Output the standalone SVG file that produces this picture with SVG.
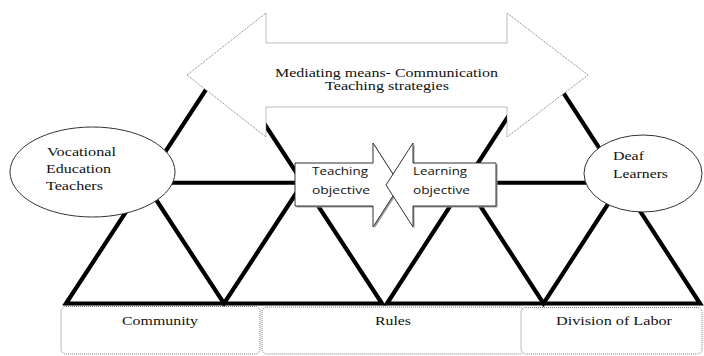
<svg xmlns="http://www.w3.org/2000/svg" width="704" height="356" viewBox="0 0 704 356">
  <style>
    .tri { fill: none; stroke: #000; stroke-width: 4.2; stroke-linejoin: miter; stroke-miterlimit: 4; }
    .dotted { fill: #fff; stroke: #7a7a7a; stroke-width: 1; stroke-dasharray: 1 1; }
    .oval { fill: #fff; stroke: #333; stroke-width: 1; }
    .callout { fill: #fff; stroke: #333; stroke-width: 1; }
    .shadow { fill: #9a9a9a; stroke: none; }
    .serif { font-family: "Liberation Serif", "Times New Roman", serif; font-size: 12px; fill: #111; }
    .sans { font-family: "Open Sans", "Liberation Sans", Arial, sans-serif; font-size: 10.5px; fill: #111; }
  </style>

  <!-- Activity-system triangles (two subdivided triangles) -->
  <g id="connectors">
    <polygon class="tri" points="66,303.5 224,62 382,303.5"/>
    <polygon class="tri" points="145,182.75 303,182.75 224,303.5"/>
    <polygon class="tri" points="387,303.5 543.5,62 700,303.5"/>
    <polygon class="tri" points="465.25,182.75 621.75,182.75 543.5,303.5"/>
  </g>

  <!-- Double-headed mediating arrow -->
  <g id="mediating-means">
    <path class="dotted" d="M187,75 L266,13 L266,43 L507,43 L507,13 L588,75 L507,137 L507,107 L266,107 L266,137 Z"/>
    <text class="serif" x="275" y="77" textLength="223" lengthAdjust="spacingAndGlyphs">Mediating means- Communication</text>
    <text class="serif" x="325" y="89.5" textLength="124" lengthAdjust="spacingAndGlyphs">Teaching strategies</text>
  </g>

  <!-- Subject: teachers -->
  <g id="teachers">
    <ellipse class="oval" cx="92.5" cy="172" rx="82.5" ry="45"/>
    <text class="serif" x="47" y="156" textLength="69" lengthAdjust="spacingAndGlyphs">Vocational</text>
    <text class="serif" x="46" y="173" textLength="65" lengthAdjust="spacingAndGlyphs">Education</text>
    <text class="serif" x="46" y="190" textLength="57" lengthAdjust="spacingAndGlyphs">Teachers</text>
  </g>

  <!-- Subject: learners -->
  <g id="learners">
    <ellipse class="oval" cx="643" cy="173.5" rx="59" ry="38.5"/>
    <text class="serif" x="613" y="160" textLength="31" lengthAdjust="spacingAndGlyphs">Deaf</text>
    <text class="serif" x="613" y="178" textLength="55" lengthAdjust="spacingAndGlyphs">Learners</text>
  </g>

  <!-- Object callouts -->
  <g id="teaching-objective">
    <path class="shadow" d="M296.5,164.5 L374.5,164.5 L374.5,144.5 L401.5,186.5 L374.5,228.5 L374.5,207.5 L296.5,207.5 Z"/>
    <path class="callout" d="M295,163 L373,163 L373,143 L400,185 L373,227 L373,206 L295,206 Z"/>
    <text class="sans" x="312" y="175" textLength="56" lengthAdjust="spacingAndGlyphs">Teaching</text>
    <text class="sans" x="312" y="194" textLength="58" lengthAdjust="spacingAndGlyphs">objective</text>
  </g>
  <g id="learning-objective">
    <path class="shadow" d="M497.5,164.5 L414.5,164.5 L414.5,144.5 L387.5,186.5 L414.5,228.5 L414.5,207.5 L497.5,207.5 Z"/>
    <path class="callout" d="M496,163 L413,163 L413,143 L386,185 L413,227 L413,206 L496,206 Z"/>
    <text class="sans" x="413" y="175" textLength="54" lengthAdjust="spacingAndGlyphs">Learning</text>
    <text class="sans" x="413" y="194" textLength="57" lengthAdjust="spacingAndGlyphs">objective</text>
  </g>

  <!-- Bottom labels -->
  <g id="community">
    <rect class="dotted" x="61" y="306.5" width="199" height="47.5" rx="5"/>
    <text class="serif" x="122" y="325" textLength="76" lengthAdjust="spacingAndGlyphs">Community</text>
  </g>
  <g id="rules">
    <rect class="dotted" x="262" y="307" width="262" height="47" rx="5"/>
    <text class="serif" x="375" y="325" textLength="36" lengthAdjust="spacingAndGlyphs">Rules</text>
  </g>
  <g id="division-of-labor">
    <rect class="dotted" x="521" y="307.5" width="181" height="46.5" rx="5"/>
    <text class="serif" x="556" y="325" textLength="116" lengthAdjust="spacingAndGlyphs">Division of Labor</text>
  </g>
</svg>
